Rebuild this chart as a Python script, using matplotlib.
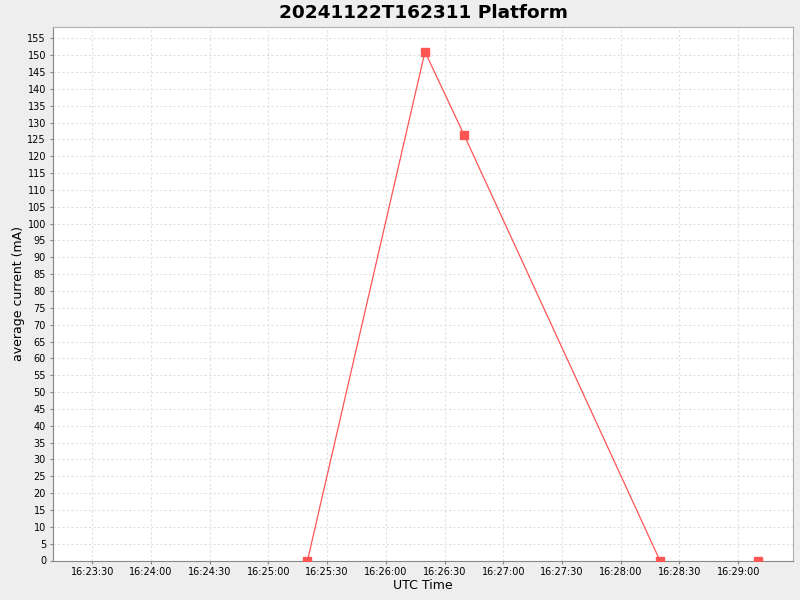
import numpy as np
import matplotlib.pyplot as plt
import matplotlib.dates as mdates
from datetime import datetime

# sample times (UTC) and average current in mA
times = ['16:25:20', '16:26:20', '16:26:40', '16:28:20', '16:29:10']
current = [0, 151, 126.3, 0, 0]
# the last sample is not joined to the line in the original
n_joined = 4

x_start = '16:23:10'
x_end = '16:29:28'
y_ticks = list(range(0, 160, 5))

def t(s):
    return datetime.strptime('2024-11-22 ' + s, '%Y-%m-%d %H:%M:%S')

tx = [t(s) for s in times]

fig = plt.figure(figsize=(8, 6), dpi=100, facecolor='#eeeeee')
ax = fig.add_axes([53/800, 1 - 560.5/600, (793-53)/800, (560.5-26.5)/600])
ax.set_facecolor('white')

red = '#ff5555'
ax.plot(tx[:n_joined], current[:n_joined], color=red, lw=0.9, zorder=3, clip_on=True)
ax.plot(tx, current, ls='none', marker='s', ms=5.2, color=red, zorder=4, clip_on=True)

ax.set_xlim(t(x_start), t(x_end))
ax.set_ylim(0, 158.5)
ax.set_yticks(y_ticks)
ax.xaxis.set_major_locator(mdates.SecondLocator(bysecond=[0, 30]))
ax.xaxis.set_major_formatter(mdates.DateFormatter('%H:%M:%S'))

ax.grid(True, color='#e0e0e0', ls=(0, (2, 2)), lw=0.8)
ax.set_axisbelow(True)
ax.tick_params(labelsize=7, length=2, color='#888888', pad=3)
for s in ['left', 'bottom']:
    ax.spines[s].set_color('#888888')
for s in ['top', 'right']:
    ax.spines[s].set_color('#b0b0b0')

ax.set_xlabel('UTC Time', fontsize=9, labelpad=1)
ax.set_ylabel('average current (mA)', fontsize=9, labelpad=1.5)
ax.set_title('20241122T162311 Platform', fontsize=13.3, fontweight='bold', pad=6)

fig.savefig('out.png', dpi=100, facecolor=fig.get_facecolor())
